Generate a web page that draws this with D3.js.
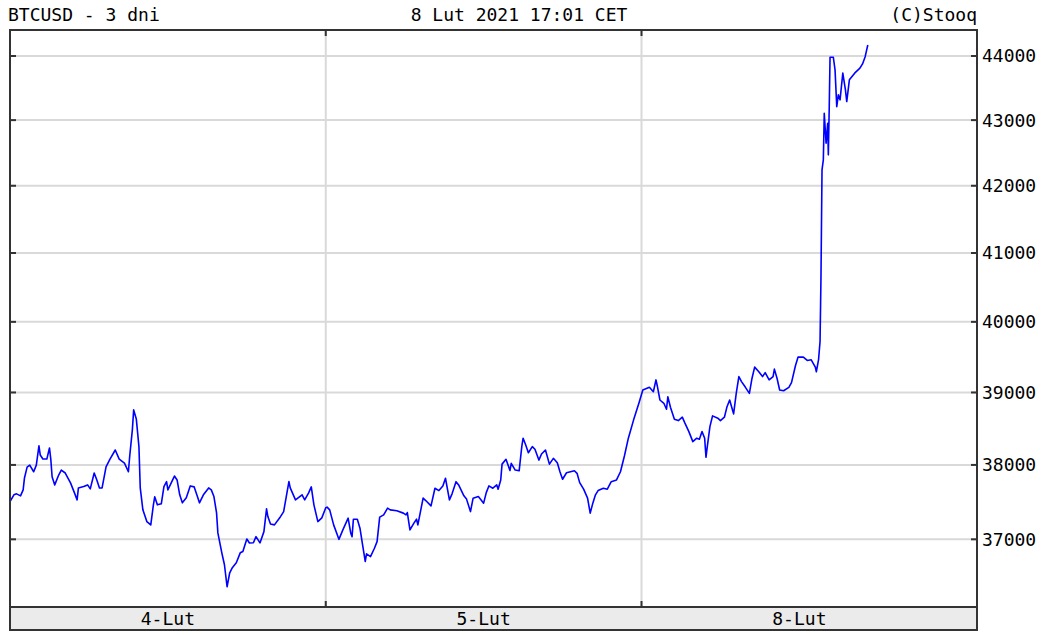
<!DOCTYPE html>
<html>
<head>
  <title>BTCUSD - 3 dni</title>
  <script src="https://d3js.org/d3.v7.min.js"></script>
  <style>
    body { margin: 0; background: #fff; }
    text { font-family: "DejaVu Sans Mono", "Liberation Mono", monospace; font-size: 18px; fill: #000; }
  </style>
</head>
<body>
  <script>
    var width = 1046,
        height = 635;

    // hours from start of first session (3 sessions x 24h) and price in USD
    var hours = [0, 0.3, 0.5, 0.8, 1.0, 1.1, 1.3, 1.5, 1.8, 2.0, 2.2, 2.3, 2.5, 2.8, 3.0, 3.1, 3.2, 3.4, 3.7, 3.9,
      4.2, 4.6, 4.9, 5.1, 5.2, 5.6, 5.9, 6.1, 6.4, 6.6, 6.8, 7.0, 7.3, 7.6, 8.0, 8.3, 8.7, 9.0, 9.1, 9.3,
      9.4, 9.6, 9.8, 9.9, 10.1, 10.4, 10.7, 10.9, 11.0, 11.2, 11.5, 11.7, 11.9, 12.0, 12.3, 12.5, 12.7, 12.9, 13.1, 13.4,
      13.7, 14.0, 14.2, 14.4, 14.7, 15.1, 15.3, 15.5, 15.7, 15.8, 16.1, 16.3, 16.5, 16.7, 16.9, 17.2, 17.5, 17.7, 18.0, 18.2,
      18.5, 18.7, 19.0, 19.3, 19.5, 19.6, 19.8, 20.1, 20.5, 20.8, 21.0, 21.2, 21.3, 21.7, 21.9, 22.2, 22.4, 22.7, 22.9, 23.1,
      23.4, 23.7, 24.0, 24.1, 24.3, 24.6, 25.0, 25.3, 25.7, 25.9, 26.0, 26.1, 26.4, 26.6, 26.8, 27.0, 27.1, 27.4, 27.7, 27.9,
      28.1, 28.4, 28.7, 28.9, 29.4, 29.9, 30.1, 30.2, 30.4, 30.7, 30.9, 31.0, 31.4, 31.6, 32.0, 32.3, 32.6, 32.9, 33.1, 33.4,
      33.6, 33.9, 34.1, 34.5, 34.7, 35.0, 35.2, 35.6, 36.0, 36.2, 36.4, 36.7, 37.0, 37.1, 37.3, 37.4, 37.7, 38.0, 38.1, 38.4,
      38.7, 38.9, 39.0, 39.2, 39.4, 39.7, 39.9, 40.2, 40.4, 40.7, 41.0, 41.3, 41.6, 41.8, 42.0, 42.3, 42.9, 43.1, 43.3, 43.6,
      43.9, 44.1, 44.3, 44.5, 44.7, 45.1, 45.4, 45.7, 46.1, 46.4, 46.7, 47.0, 47.4, 47.8, 48.1, 48.6, 48.9, 49.1, 49.2, 49.4,
      49.7, 49.9, 50.0, 50.2, 50.5, 50.8, 51.1, 51.3, 51.6, 51.9, 52.2, 52.4, 52.6, 52.8, 52.9, 53.0, 53.2, 53.4, 53.8, 54.0,
      54.3, 54.5, 54.7, 54.9, 55.0, 55.2, 55.4, 55.6, 55.9, 56.2, 56.4, 56.6, 56.9, 57.2, 57.4, 57.7, 58.0, 58.1, 58.3, 58.5,
      58.8, 59.2, 59.4, 59.7, 59.9, 60.3, 60.6, 60.9, 61.21, 61.29, 61.46, 61.57, 61.64, 61.72, 61.82, 61.89, 62.03, 62.15, 62.20, 62.27,
      62.33, 62.58, 62.71, 62.84, 62.96, 63.09, 63.3, 63.5, 63.6, 63.8, 64.0, 64.2, 64.6, 64.8, 65.0, 65.2];

    var prices = [37505, 37595, 37608, 37581, 37662, 37823, 37970, 37997, 37907, 37997, 38260, 38135, 38080, 38080, 38232, 38080, 37840, 37729, 37863, 37930,
      37890, 37756, 37621, 37527, 37688, 37706, 37729, 37675, 37890, 37796, 37688, 37688, 37974, 38080, 38204, 38080, 38025, 37907, 38122, 38481,
      38757, 38632, 38250, 37688, 37393, 37236, 37192, 37460, 37568, 37460, 37474, 37706, 37773, 37662, 37773, 37849, 37796, 37595, 37487, 37554,
      37715, 37702, 37595, 37487, 37595, 37688, 37662, 37572, 37353, 37085, 36821, 36664, 36376, 36559, 36625, 36690, 36821, 36838, 37004, 36952,
      36955, 37035, 36952, 37102, 37407, 37303, 37205, 37192, 37286, 37370, 37572, 37773, 37688, 37527, 37554, 37595, 37527, 37621, 37702, 37460,
      37236, 37286, 37420, 37429, 37393, 37192, 37000, 37125, 37282, 37081, 37035, 37268, 37268, 37148, 36925, 36707, 36808, 36772, 36882, 36969,
      37295, 37326, 37416, 37393, 37380, 37349, 37326, 37357, 37125, 37215, 37268, 37192, 37550, 37518, 37447, 37684, 37652, 37715, 37819, 37527,
      37608, 37773, 37729, 37581, 37537, 37370, 37550, 37572, 37483, 37625, 37715, 37684, 37729, 37671, 37796, 38011, 38076, 37924, 38021, 37930,
      37920, 38250, 38366, 38273, 38167, 38250, 38214, 38066, 38149, 38204, 38011, 38090, 38029, 37907, 37805, 37894, 37921, 37886, 37760, 37671,
      37550, 37349, 37483, 37595, 37652, 37684, 37671, 37773, 37796, 37907, 38122, 38366, 38619, 38850, 39034, 39072, 39010, 39176, 39091, 38895,
      38849, 38766, 38940, 38794, 38628, 38609, 38656, 38573, 38457, 38319, 38366, 38352, 38457, 38366, 38104, 38250, 38526, 38674, 38642, 38609,
      38656, 38802, 38895, 38766, 38702, 38987, 39223, 39152, 39072, 38988, 39200, 39356, 39294, 39223, 39279, 39176, 39223, 39328, 39200, 39034,
      39024, 39072, 39138, 39375, 39498, 39498, 39450, 39460, 39356, 39291, 39467, 39719, 40633, 42239, 42391, 43106, 42646, 42951, 42468, 43209,
      43980, 43980, 43782, 43209, 43392, 43314, 43730, 43470, 43287, 43626, 43677, 43730, 43808, 43875, 43989, 44174];

    var yTicks = [37000, 38000, 39000, 40000, 41000, 42000, 43000, 44000];
    var dayStarts = [0, 24, 48];
    var dayLabels = ["4-Lut", "5-Lut", "8-Lut"];

    var plotLeft = 10, plotRight = 977, plotTop = 30, plotBottom = 607, bandBottom = 630;

    var svg = d3.select('body')
      .append('svg')
      .attr('width', width)
      .attr('height', height);

    var x = d3.scaleLinear()
      .domain([0, 73.5])
      .range([plotLeft, plotRight]);

    var y = d3.scaleLog()
      .domain([36113, 44412])
      .range([plotBottom, plotTop]);

    // header texts
    svg.append('text').attr('x', 8).attr('y', 21).text('BTCUSD - 3 dni');
    svg.append('text').attr('x', 519).attr('y', 21).attr('text-anchor', 'middle').text('8 Lut 2021 17:01 CET');
    svg.append('text').attr('x', 977).attr('y', 21).attr('text-anchor', 'end').text('(C)Stooq');

    // grid
    svg.append('g').selectAll('line')
      .data(yTicks)
      .enter().append('line')
      .attr('x1', plotLeft).attr('x2', plotRight)
      .attr('y1', function(d) { return y(d); })
      .attr('y2', function(d) { return y(d); })
      .attr('stroke', '#d9d9d9')
      .attr('stroke-width', 2);

    svg.append('g').selectAll('line')
      .data(dayStarts.slice(1))
      .enter().append('line')
      .attr('x1', function(d) { return x(d); })
      .attr('x2', function(d) { return x(d); })
      .attr('y1', plotTop).attr('y2', plotBottom)
      .attr('stroke', '#d9d9d9')
      .attr('stroke-width', 2);

    // price line
    var line = d3.line()
      .x(function(d, i) { return x(hours[i]); })
      .y(function(d) { return y(d); });

    svg.append('path')
      .datum(prices)
      .attr('fill', 'none')
      .attr('stroke', '#0000ff')
      .attr('stroke-width', 1.6)
      .attr('stroke-linejoin', 'round')
      .attr('d', line);

    // day band at the bottom
    svg.append('rect')
      .attr('x', plotLeft).attr('y', plotBottom)
      .attr('width', plotRight - plotLeft).attr('height', bandBottom - plotBottom)
      .attr('fill', '#ebebeb')
      .attr('stroke', '#333')
      .attr('stroke-width', 2);

    svg.append('g').selectAll('text')
      .data(dayLabels)
      .enter().append('text')
      .attr('x', function(d, i) { return x(dayStarts[i] + 12); })
      .attr('y', 625)
      .attr('text-anchor', 'middle')
      .text(function(d) { return d; });

    // frame
    svg.append('rect')
      .attr('x', plotLeft).attr('y', plotTop)
      .attr('width', plotRight - plotLeft).attr('height', plotBottom - plotTop)
      .attr('fill', 'none')
      .attr('stroke', '#333')
      .attr('stroke-width', 2);

    // inward ticks
    var ticks = svg.append('g').attr('stroke', '#333').attr('stroke-width', 2);
    yTicks.forEach(function(t) {
      ticks.append('line').attr('x1', plotLeft).attr('x2', plotLeft + 6).attr('y1', y(t)).attr('y2', y(t));
      ticks.append('line').attr('x1', plotRight - 6).attr('x2', plotRight).attr('y1', y(t)).attr('y2', y(t));
    });
    dayStarts.slice(1).forEach(function(t) {
      ticks.append('line').attr('x1', x(t)).attr('x2', x(t)).attr('y1', plotTop).attr('y2', plotTop + 6);
      ticks.append('line').attr('x1', x(t)).attr('x2', x(t)).attr('y1', plotBottom - 6).attr('y2', plotBottom);
    });

    // right axis labels
    svg.append('g').selectAll('text')
      .data(yTicks)
      .enter().append('text')
      .attr('x', 982)
      .attr('y', function(d) { return y(d); })
      .attr('dy', '0.36em')
      .text(function(d) { return d; });
  </script>
</body>
</html>
